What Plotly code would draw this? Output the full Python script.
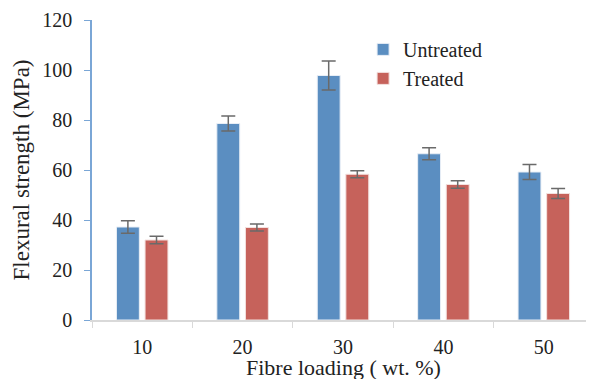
import plotly.graph_objects as go

categories = ["10", "20", "30", "40", "50"]
untreated = [37.2, 78.6, 97.8, 66.5, 59.2]
untreated_err = [2.5, 3.0, 5.8, 2.4, 3.0]
treated = [32.0, 37.0, 58.3, 54.2, 50.6]
treated_err = [1.5, 1.4, 1.4, 1.5, 2.0]

FONT = "Liberation Serif"
err_style = dict(type="data", visible=True, color="#6a6a6a", thickness=1.5, width=7)

fig = go.Figure()
fig.add_trace(go.Bar(
    name="Untreated", x=categories, y=untreated,
    error_y=dict(array=untreated_err, **err_style),
    marker=dict(color="#5b8ec1", line=dict(color="#e8eef6", width=1)),
    legendgroup="a",
))
fig.add_trace(go.Bar(
    name="Treated", x=categories, y=treated,
    error_y=dict(array=treated_err, **err_style),
    marker=dict(color="#c6625b", line=dict(color="#f3e0de", width=1)),
    legendgroup="b",
))

# The page body has an 8px margin, so the figure is offset by 8px.
fig.update_layout(
    width=594, height=379,
    margin=dict(l=84, r=8, t=12, b=67, autoexpand=False),
    paper_bgcolor="white", plot_bgcolor="white",
    barmode="group", bargap=0.43, bargroupgap=0.2,
    font=dict(family=FONT, size=20, color="#222222"),
    legend=dict(
        x=0.54, y=0.967, xanchor="left", yanchor="top",
        font=dict(family=FONT, size=20, color="#222222"),
        bgcolor="rgba(0,0,0,0)", traceorder="grouped", tracegroupgap=0,
        itemwidth=30,
    ),
    xaxis=dict(
        type="category", automargin=False,
        showline=True, linecolor="#d9d9d9", linewidth=1.5,
        ticks="outside", tickson="boundaries", ticklen=6, tickcolor="#d9d9d9",
        showgrid=False,
        ticklabelstandoff=8,
        tickfont=dict(size=20),
    ),
    yaxis=dict(
        range=[0, 120], dtick=20, automargin=False,
        showline=True, linecolor="#7aa6d6", linewidth=1.5,
        ticks="outside", ticklen=6, tickcolor="#7aa6d6",
        showgrid=False, zeroline=False,
        ticklabelstandoff=8,
        title=dict(text="Flexural strength (MPa)", standoff=6, font=dict(size=23)),
        tickfont=dict(size=20),
    ),
    annotations=[dict(
        text="Fibre loading ( wt. %)", xref="paper", yref="paper",
        x=0.5, y=-0.158, xanchor="center", yanchor="middle", showarrow=False,
        font=dict(family=FONT, size=22, color="#222222"),
    )],
)

fig.write_html("out.html")
